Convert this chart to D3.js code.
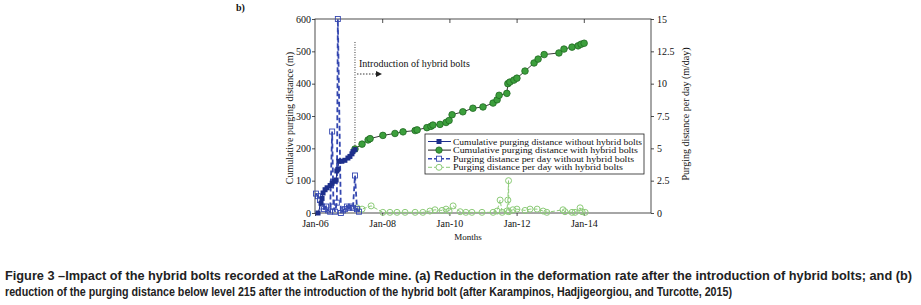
<!DOCTYPE html>
<html>
<head>
<meta charset="utf-8">
<script src="https://cdn.jsdelivr.net/npm/d3@7"></script>
<style>
    body { margin: 0; background: #fff; }
    svg text { font-family: "Liberation Serif", "Times New Roman", serif; fill: #111; }
    .caption text { font-family: "Liberation Sans Narrow", "Liberation Sans", Arial, sans-serif; font-weight: bold; fill: #222; }
</style>
</head>
<body>
<div id="chart"></div>
<script>
// data: [decimal year, value]
const cumWithout = [
    [2006.09, 0], [2006.18, 30], [2006.21, 45], [2006.24, 62], [2006.30, 72], [2006.36, 78],
    [2006.45, 85], [2006.51, 92], [2006.57, 98], [2006.63, 102], [2006.65, 130], [2006.68, 135],
    [2006.71, 160], [2006.80, 160], [2006.89, 163], [2006.98, 170], [2007.04, 175], [2007.10, 183],
    [2007.13, 190], [2007.19, 196]
];
const cumWith = [
    [2007.19, 198], [2007.40, 213], [2007.58, 226], [2007.64, 230], [2008.02, 240], [2008.38, 246],
    [2008.62, 251], [2008.98, 255], [2009.04, 257], [2009.33, 264], [2009.45, 268], [2009.51, 272],
    [2009.72, 274], [2009.90, 280], [2009.99, 286], [2010.08, 304], [2010.40, 313], [2010.70, 324],
    [2011.00, 328], [2011.30, 340], [2011.42, 350], [2011.48, 364], [2011.71, 370], [2011.74, 400],
    [2011.80, 405], [2011.92, 411], [2012.01, 417], [2012.25, 439], [2012.52, 464], [2012.64, 476],
    [2012.82, 490], [2013.26, 495], [2013.41, 507], [2013.65, 513], [2013.83, 517], [2013.92, 522],
    [2014.01, 525]
];
const dayWithout = [
    [2006.03, 1.5], [2006.09, 1.3], [2006.15, 1.0], [2006.21, 0.5], [2006.27, 0.3], [2006.33, 0.5],
    [2006.39, 0.2], [2006.45, 0.1], [2006.51, 6.3], [2006.55, 0.5], [2006.60, 0.1], [2006.65, 0.8],
    [2006.68, 15], [2006.77, 0], [2006.83, 0.2], [2006.89, 0.3], [2006.95, 0.5], [2007.01, 0.4],
    [2007.07, 0.5], [2007.13, 0.4], [2007.19, 2.9], [2007.25, 0.3], [2007.31, 0.1]
];
const dayWith = [
    [2007.25, 0.4], [2007.40, 0.3], [2007.67, 0.55], [2008.02, 0.05], [2008.23, 0.05], [2008.44, 0.05],
    [2008.68, 0.05], [2008.98, 0.05], [2009.21, 0.05], [2009.42, 0.15], [2009.57, 0.25], [2009.78, 0.2],
    [2009.90, 0.3], [2009.99, 0.15], [2010.11, 0.55], [2010.32, 0.1], [2010.49, 0.05], [2010.67, 0.05],
    [2010.97, 0.05], [2011.30, 0.05], [2011.42, 0.15], [2011.51, 1.0], [2011.57, 0.05], [2011.71, 0.15],
    [2011.74, 1.0], [2011.76, 2.5], [2011.77, 0.1], [2011.89, 0.25], [2012.01, 0.3], [2012.25, 0.2],
    [2012.40, 0.3], [2012.61, 0.3], [2012.79, 0.15], [2012.90, 0.05], [2013.38, 0.25], [2013.44, 0.1],
    [2013.65, 0.05], [2013.74, 0.05], [2013.89, 0.4], [2013.95, 0.1], [2014.04, 0.05]
];

const xTicks = [2006, 2008, 2010, 2012, 2014];
const leftTicks = [0, 100, 200, 300, 400, 500, 600];
const rightTicks = [0, 2.5, 5, 7.5, 10, 12.5, 15];
const introYear = 2007.19;

const legendLabels = [
    'Cumulative purging distance without hybrid bolts',
    'Cumulative purging distance  with hybrid bolts',
    'Purging distance per day without hybrid bolts',
    'Purging distance per day with hybrid bolts'
];
const captionLines = [
    'Figure 3 \u2013Impact of the hybrid bolts recorded at the LaRonde mine. (a) Reduction in the deformation rate after the introduction of hybrid bolts; and (b)',
    'reduction of the purging distance below level 215 after the introduction of the hybrid bolt (after Karampinos, Hadjigeorgiou, and Turcotte, 2015)'
];

const blue = '#1d2f8c';
const blueLight = '#3447b0';
const green = '#3c9f3c';
const greenLight = '#8ccb78';

const svg = d3.select('#chart').append('svg')
    .attr('width', 921)
    .attr('height', 305)
    .style('white-space', 'pre');

const plot = { left: 315, right: 651, top: 19, bottom: 213 };

const x = d3.scaleLinear().domain([2006, 2016]).range([plot.left, plot.right]);
const yL = d3.scaleLinear().domain([0, 600]).range([plot.bottom, plot.top]);
const yR = d3.scaleLinear().domain([0, 15]).range([plot.bottom, plot.top]);

svg.append('text')
    .attr('x', 236).attr('y', 11)
    .style('font-size', '10px').style('font-weight', 'bold')
    .text('b)');

// frame
svg.append('rect')
    .attr('x', plot.left).attr('y', plot.top)
    .attr('width', plot.right - plot.left).attr('height', plot.bottom - plot.top)
    .attr('fill', 'none').attr('stroke', '#222').attr('stroke-width', 0.8);

// axes
const axisStyle = (g) => {
    g.select('.domain').remove();
    g.selectAll('line').attr('stroke', '#222').attr('stroke-width', 0.8);
    g.selectAll('text').style('font-size', '10px').attr('fill', '#111');
};

svg.append('g')
    .attr('transform', `translate(0,${plot.bottom})`)
    .call(d3.axisBottom(x).tickValues(xTicks).tickSize(3).tickPadding(4)
        .tickFormat(d => 'Jan-' + String(d).slice(2)))
    .call(axisStyle);

svg.append('g')
    .attr('transform', `translate(0,${plot.top})`)
    .call(d3.axisBottom(x).tickValues(xTicks.slice(1)).tickSize(4).tickFormat(''))
    .call(axisStyle);

svg.append('g')
    .attr('transform', `translate(${plot.left},0)`)
    .call(d3.axisLeft(yL).tickValues(leftTicks).tickSize(3).tickPadding(1))
    .call(axisStyle);

svg.select('g:nth-of-type(3) .tick text');

svg.append('g')
    .attr('transform', `translate(${plot.right},0)`)
    .call(d3.axisRight(yR).tickValues(rightTicks).tickSize(3).tickPadding(3)
        .tickFormat(d => String(d)))
    .call(axisStyle);

svg.append('text')
    .attr('transform', `translate(293,${(plot.top + plot.bottom) / 2 + 2}) rotate(-90)`)
    .attr('text-anchor', 'middle')
    .style('font-size', '10px')
    .text('Cumulative purging distance (m)');

svg.append('text')
    .attr('transform', `translate(689,${(plot.top + plot.bottom) / 2 - 2}) rotate(-90)`)
    .attr('text-anchor', 'middle')
    .style('font-size', '10px')
    .text('Purging distance per day (m/day)');

svg.append('text')
    .attr('x', 468).attr('y', 240)
    .attr('text-anchor', 'middle')
    .style('font-size', '9px')
    .text('Months');

// lines
const lineL = d3.line().x(d => x(d[0])).y(d => yL(d[1]));
const lineR = d3.line().x(d => x(d[0])).y(d => yR(d[1]));

svg.append('path').datum(dayWith)
    .attr('d', lineR).attr('fill', 'none')
    .attr('stroke', greenLight).attr('stroke-width', 1).attr('stroke-dasharray', '4,2');

svg.append('g').selectAll('circle')
    .data(dayWith).enter().append('circle')
    .attr('cx', d => x(d[0])).attr('cy', d => yR(d[1])).attr('r', 3)
    .attr('fill', 'none').attr('stroke', greenLight).attr('stroke-width', 1);

svg.append('path').datum(dayWithout)
    .attr('d', lineR).attr('fill', 'none')
    .attr('stroke', blueLight).attr('stroke-width', 1.8).attr('stroke-dasharray', '5,3');

svg.append('g').selectAll('rect')
    .data(dayWithout).enter().append('rect')
    .attr('x', d => x(d[0]) - 2.5).attr('y', d => yR(d[1]) - 2.5)
    .attr('width', 5).attr('height', 5)
    .attr('fill', 'none').attr('stroke', blueLight).attr('stroke-width', 0.9);

svg.append('path').datum(cumWith)
    .attr('d', lineL).attr('fill', 'none')
    .attr('stroke', '#222').attr('stroke-width', 0.9);

svg.append('g').selectAll('circle')
    .data(cumWith).enter().append('circle')
    .attr('cx', d => x(d[0])).attr('cy', d => yL(d[1])).attr('r', 3.3)
    .attr('fill', green).attr('stroke', '#1f6a22').attr('stroke-width', 0.8);

svg.append('path').datum(cumWithout)
    .attr('d', lineL).attr('fill', 'none')
    .attr('stroke', blue).attr('stroke-width', 1);

svg.append('g').selectAll('rect')
    .data(cumWithout).enter().append('rect')
    .attr('x', d => x(d[0]) - 2.5).attr('y', d => yL(d[1]) - 2.5)
    .attr('width', 5).attr('height', 5)
    .attr('fill', blue);

// introduction marker
svg.append('line')
    .attr('x1', x(introYear)).attr('x2', x(introYear))
    .attr('y1', 42).attr('y2', yL(196))
    .attr('stroke', '#222').attr('stroke-width', 0.9).attr('stroke-dasharray', '1,1.5');

svg.append('line')
    .attr('x1', x(introYear) + 2).attr('x2', x(introYear) + 22)
    .attr('y1', 74).attr('y2', 74)
    .attr('stroke', '#222').attr('stroke-width', 0.9).attr('stroke-dasharray', '1.5,1.5');

svg.append('path')
    .attr('d', `M${x(introYear) + 21},71 L${x(introYear) + 27},74 L${x(introYear) + 21},77 Z`)
    .attr('fill', '#222');

svg.append('text')
    .attr('x', x(introYear) + 4).attr('y', 67)
    .style('font-size', '10px')
    .text('Introduction of hybrid bolts');

// legend
const legend = svg.append('g').attr('transform', 'translate(425,134)');
legend.append('rect')
    .attr('width', 219).attr('height', 40)
    .attr('fill', '#fff').attr('stroke', '#222').attr('stroke-width', 0.8);

const legendStyles = [
    { stroke: blue, dash: null, width: 1 },
    { stroke: '#222', dash: null, width: 1 },
    { stroke: blueLight, dash: '4,2', width: 1.4 },
    { stroke: greenLight, dash: '4,2', width: 1 }
];

const legendWidths = [189, 185, 181, 170];

legendLabels.forEach((label, i) => {
    const ly = 7.5 + i * 8.6;
    const st = legendStyles[i];
    legend.append('line')
        .attr('x1', 3).attr('x2', 26).attr('y1', ly).attr('y2', ly)
        .attr('stroke', st.stroke).attr('stroke-width', st.width)
        .attr('stroke-dasharray', st.dash);
    if (i === 0) {
        legend.append('rect').attr('x', 11.5).attr('y', ly - 2.5).attr('width', 5).attr('height', 5).attr('fill', blue);
    } else if (i === 1) {
        legend.append('circle').attr('cx', 14).attr('cy', ly).attr('r', 3.2)
            .attr('fill', green).attr('stroke', '#1f6a22').attr('stroke-width', 0.8);
    } else if (i === 2) {
        legend.append('rect').attr('x', 11.5).attr('y', ly - 2.5).attr('width', 5).attr('height', 5)
            .attr('fill', '#fff').attr('stroke', blueLight).attr('stroke-width', 0.9);
    } else {
        legend.append('circle').attr('cx', 14).attr('cy', ly).attr('r', 3)
            .attr('fill', '#fff').attr('stroke', greenLight).attr('stroke-width', 1);
    }
    legend.append('text')
        .attr('x', 28).attr('y', ly + 3)
        .attr('textLength', legendWidths[i])
        .attr('lengthAdjust', 'spacingAndGlyphs')
        .style('font-size', '8.6px')
        .text(label);
});

// caption
const caption = svg.append('g').attr('class', 'caption');
const captionWidths = [907, 727];
captionLines.forEach((line, i) => {
    caption.append('text')
        .attr('x', 5).attr('y', 280 + i * 16)
        .attr('textLength', captionWidths[i])
        .attr('lengthAdjust', 'spacingAndGlyphs')
        .style('font-size', '12.5px')
        .text(line);
});
</script>
</body>
</html>
